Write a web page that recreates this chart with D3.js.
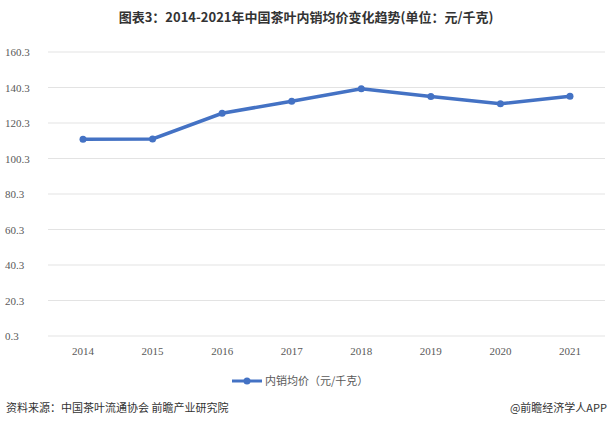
<!DOCTYPE html><html><head><meta charset="utf-8"><script src="https://cdn.jsdelivr.net/npm/d3@7"></script>
<style>body{margin:0;background:#fff;font-family:"Noto Sans CJK SC","Liberation Sans",sans-serif}</style></head><body><svg id="c" width="613" height="426"></svg><script>
const years=["2014","2015","2016","2017","2018","2019","2020","2021"];
const values=[111.2,111.3,125.8,132.6,139.6,135.2,131.1,135.4];
const yTicks=[0.3,20.3,40.3,60.3,80.3,100.3,120.3,140.3,160.3];
const svg=d3.select("#c");
const x=d3.scalePoint().domain(years).range([83,570]);
const y=d3.scaleLinear().domain([0.3,160.3]).range([336,52]);
svg.append("text").attr("x",306).attr("y",22).attr("text-anchor","middle").attr("font-size",13).attr("font-weight","bold").attr("fill","#333").text("图表3：2014-2021年中国茶叶内销均价变化趋势(单位：元/千克)");
svg.append("g").selectAll("line").data(yTicks).join("line").attr("x1",48).attr("x2",605).attr("y1",d=>y(d)).attr("y2",d=>y(d)).attr("stroke","#e3e3e3");
svg.append("g").selectAll("text").data(yTicks).join("text").attr("x",5).attr("y",d=>y(d)+4).attr("font-size",11).attr("fill","#595959").attr("font-family","Liberation Serif,serif").text(d=>d.toFixed(1));
svg.append("g").selectAll("text").data(years).join("text").attr("x",d=>x(d)).attr("y",355).attr("text-anchor","middle").attr("font-size",11).attr("fill","#595959").attr("font-family","Liberation Serif,serif").text(d=>d);
const line=d3.line().x((d,i)=>x(years[i])).y(d=>y(d));
svg.append("path").datum(values).attr("d",line).attr("fill","none").attr("stroke","#4472c4").attr("stroke-width",3.5);
svg.append("g").selectAll("circle").data(values).join("circle").attr("cx",(d,i)=>x(years[i])).attr("cy",d=>y(d)).attr("r",3.5).attr("fill","#4472c4");
svg.append("line").attr("x1",232).attr("x2",262).attr("y1",381).attr("y2",381).attr("stroke","#4472c4").attr("stroke-width",3);
svg.append("circle").attr("cx",247).attr("cy",381).attr("r",3.5).attr("fill","#4472c4");
svg.append("text").attr("x",265).attr("y",385).attr("font-size",11).attr("fill","#595959").text("内销均价（元/千克）");
svg.append("text").attr("x",6).attr("y",412).attr("font-size",11).attr("fill","#333").text("资料来源：中国茶叶流通协会 前瞻产业研究院");
svg.append("text").attr("x",607).attr("y",412).attr("text-anchor","end").attr("font-size",11).attr("fill","#333").text("@前瞻经济学人APP");
</script></body></html>
